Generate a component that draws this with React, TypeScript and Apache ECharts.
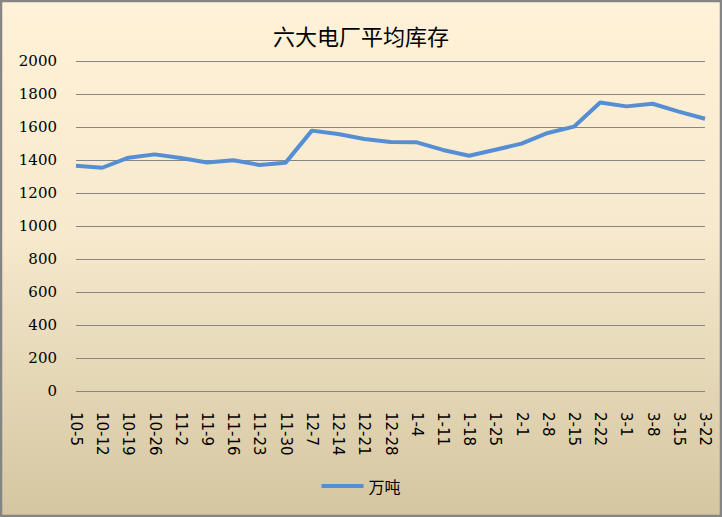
import React, { useEffect, useRef } from "react";
import * as echarts from "echarts";

const categories = [
  "10-5", "10-12", "10-19", "10-26", "11-2", "11-9", "11-16", "11-23", "11-30",
  "12-7", "12-14", "12-21", "12-28", "1-4", "1-11", "1-18", "1-25", "2-1",
  "2-8", "2-15", "2-22", "3-1", "3-8", "3-15", "3-22",
];
const stockValues = [
  1365, 1353, 1414, 1434, 1412, 1385, 1398, 1370, 1384, 1578, 1558, 1527,
  1509, 1507, 1461, 1426, 1462, 1499, 1564, 1602, 1749, 1725, 1741, 1693, 1650,
];
const seriesName = "万吨";
const title = "六大电厂平均库存";

export default function App() {
  const ref = useRef<HTMLDivElement>(null);
  useEffect(() => {
    document.body.style.margin = "0";
    const chart = echarts.init(ref.current!, null, { renderer: "svg" });
    chart.setOption({
      animation: false,
      backgroundColor: new echarts.graphic.LinearGradient(0, 0, 0, 1, [
        { offset: 0, color: "#FFF2D8" },
        { offset: 0.45, color: "#F6E9CD" },
        { offset: 1, color: "#D4C6A0" },
      ]),
      title: {
        text: title,
        left: "center",
        top: 19,
        textStyle: {
          fontFamily: "Noto Sans CJK SC",
          fontSize: 22,
          fontWeight: "normal",
          color: "#000",
        },
      },
      legend: {
        bottom: 18,
        left: "center",
        itemWidth: 42,
        itemHeight: 4,
        itemGap: 4,
        icon: "rect",
        textStyle: { fontFamily: "Noto Sans CJK SC", fontSize: 16, color: "#000" },
        data: [{ name: seriesName, icon: "rect" }],
      },
      grid: { left: 76, right: 17, top: 61, bottom: 126 },
      xAxis: {
        type: "category",
        data: categories,
        boundaryGap: false,
        axisLine: { show: false },
        axisTick: { show: false },
        axisLabel: {
          rotate: -90,
          interval: 0,
          margin: 21,
          fontFamily: "DejaVu Sans",
          fontSize: 15,
          color: "#000",
        },
      },
      yAxis: {
        type: "value",
        min: 0,
        max: 2000,
        interval: 200,
        axisLine: { show: false },
        axisTick: { show: false },
        splitLine: { lineStyle: { color: "#868686", width: 1 } },
        axisLabel: {
          margin: 19,
          fontFamily: "DejaVu Serif",
          fontSize: 15,
          color: "#000",
          formatter: (v: number) => String(v),
        },
      },
      graphic: [
        {
          type: "rect",
          shape: { x: 1, y: 1, width: 720, height: 515 },
          style: { fill: "none", stroke: "#858585", lineWidth: 2.5 },
          silent: true,
        },
      ],
      series: [
        {
          name: seriesName,
          type: "line",
          data: stockValues,
          symbol: "none",
          lineStyle: { color: "#558ED5", width: 4 },
          itemStyle: { color: "#558ED5" },
        },
      ],
    });
    return () => chart.dispose();
  }, []);
  return <div ref={ref} style={{ width: 722, height: 517 }} />;
}
